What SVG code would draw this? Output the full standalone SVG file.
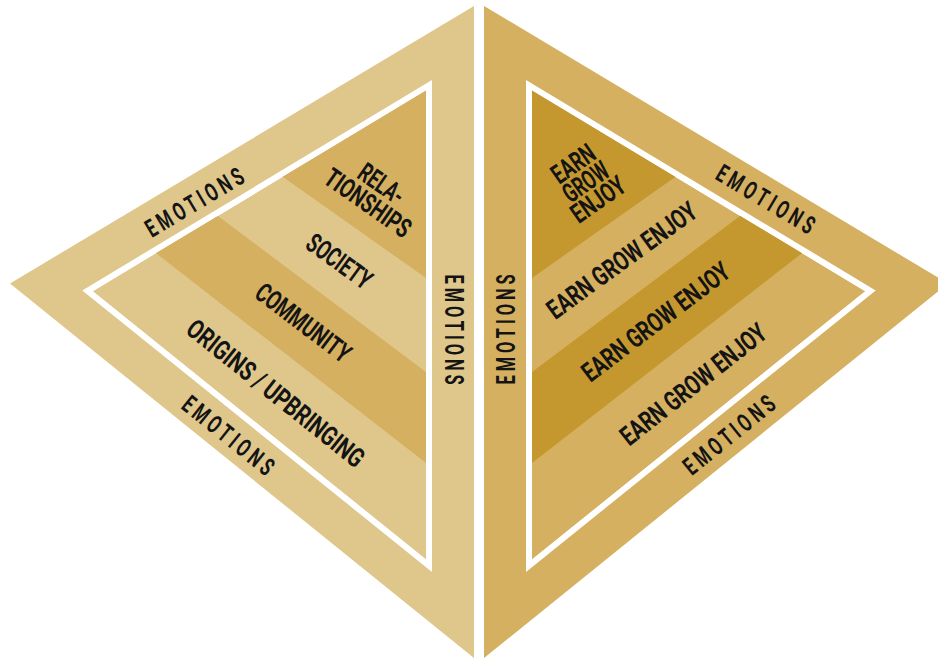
<svg xmlns="http://www.w3.org/2000/svg" width="938" height="659" viewBox="0 0 938 659">
  <style>
    .light { fill: #DFC78C; }
    .mid { fill: #D4B060; }
    .dark { fill: #C4982F; }
    .gap { fill: #FFFFFF; }
    .lbl { font-family: Roboto, "Liberation Sans", sans-serif; font-weight: bold; fill: #141414; text-anchor: middle; }
    .emo { font-size: 25px; letter-spacing: 6px; }
    .band { font-size: 27px; }
  </style>
  <defs>
    <clipPath id="clip-left">
      <polygon points="426,90.6 92.7,291.2 426,559.5"/>
    </clipPath>
    <clipPath id="clip-right">
      <polygon points="532,90.6 865.3,291.2 532,559.5"/>
    </clipPath>
  </defs>

  <rect width="938" height="659" fill="#FFFFFF"/>

  <!-- Left pyramid: frame and bands -->
  <g id="left-pyramid">
    <polygon class="light" points="474,6 10,283.5 474,658"/>
    <polygon class="gap" points="432,80 82.3,290.4 432,572"/>
    <g clip-path="url(#clip-left)">
      <polygon class="light" points="426,90.6 92.7,291.2 426,559.5"/>
      <polygon id="band-relationships" class="mid" points="200,118.4 450,295 450,0 200,0"/>
      <polygon id="band-community" class="mid" points="60,97.5 450,390 450,481.6 60,178.6"/>
    </g>
  </g>

  <!-- Right pyramid: frame and bands -->
  <g id="right-pyramid">
    <polygon class="mid" points="484,6 948,283.5 484,658"/>
    <polygon class="gap" points="526,80 875.7,290.4 526,572"/>
    <g clip-path="url(#clip-right)">
      <polygon class="mid" points="532,90.6 865.3,291.2 532,559.5"/>
      <polygon id="band-top-right" class="dark" points="758,118.4 508,295 508,0 758,0"/>
      <polygon id="band-third-right" class="dark" points="898,97.5 508,390 508,481.6 898,178.6"/>
    </g>
  </g>

  <!-- Left labels -->
  <g id="left-labels">
    <g id="lbl-relationships" transform="translate(375,193) rotate(35)">
      <text class="lbl band" x="0" y="-11.8" dy="0.36em" textLength="50" lengthAdjust="spacingAndGlyphs">RELA-</text>
      <text class="lbl band" x="0" y="11.8" dy="0.36em" textLength="99" lengthAdjust="spacingAndGlyphs">TIONSHIPS</text>
    </g>
    <text id="lbl-society" class="lbl band" transform="translate(339.5,261) rotate(36)" dy="0.36em" textLength="74" lengthAdjust="spacingAndGlyphs">SOCIETY</text>
    <text id="lbl-community" class="lbl band" transform="translate(303.5,322.5) rotate(37.2)" dy="0.36em" textLength="112" lengthAdjust="spacingAndGlyphs">COMMUNITY</text>
    <text id="lbl-origins" class="lbl band" transform="translate(276,393) rotate(38.6)" dy="0.36em" textLength="219" lengthAdjust="spacingAndGlyphs">ORIGINS / UPBRINGING</text>

    <text class="lbl emo" transform="translate(196,201) rotate(-30.8)" dy="0.36em" textLength="114" lengthAdjust="spacingAndGlyphs">EMOTIONS</text>
    <text class="lbl emo" transform="translate(454,331.5) rotate(90)" dy="0.36em" textLength="114" lengthAdjust="spacingAndGlyphs">EMOTIONS</text>
    <text class="lbl emo" transform="translate(230,436.5) rotate(38.9)" dy="0.36em" textLength="114" lengthAdjust="spacingAndGlyphs">EMOTIONS</text>
  </g>

  <!-- Right labels -->
  <g id="right-labels">
    <g id="lbl-egy-top" transform="translate(585.5,181.5) rotate(-35)">
      <text class="lbl band" x="0" y="-22" dy="0.36em" textLength="47" lengthAdjust="spacingAndGlyphs">EARN</text>
      <text class="lbl band" x="0" y="0" dy="0.36em" textLength="50" lengthAdjust="spacingAndGlyphs">GROW</text>
      <text class="lbl band" x="0" y="21.5" dy="0.36em" textLength="60" lengthAdjust="spacingAndGlyphs">ENJOY</text>
    </g>
    <text id="lbl-egy-2" class="lbl band" transform="translate(621.5,260) rotate(-36)" dy="0.36em" textLength="178" lengthAdjust="spacingAndGlyphs">EARN GROW ENJOY</text>
    <text id="lbl-egy-3" class="lbl band" transform="translate(655.5,321.5) rotate(-37.2)" dy="0.36em" textLength="178" lengthAdjust="spacingAndGlyphs">EARN GROW ENJOY</text>
    <text id="lbl-egy-4" class="lbl band" transform="translate(693,384) rotate(-38.3)" dy="0.36em" textLength="178" lengthAdjust="spacingAndGlyphs">EARN GROW ENJOY</text>

    <text class="lbl emo" transform="translate(767.5,200) rotate(30.8)" dy="0.36em" textLength="114" lengthAdjust="spacingAndGlyphs">EMOTIONS</text>
    <text class="lbl emo" transform="translate(505.5,327.5) rotate(-90)" dy="0.36em" textLength="114" lengthAdjust="spacingAndGlyphs">EMOTIONS</text>
    <text class="lbl emo" transform="translate(730.5,433.5) rotate(-38.9)" dy="0.36em" textLength="114" lengthAdjust="spacingAndGlyphs">EMOTIONS</text>
  </g>

  <!-- No connectors in this figure -->
  <g id="connectors"/>
</svg>
